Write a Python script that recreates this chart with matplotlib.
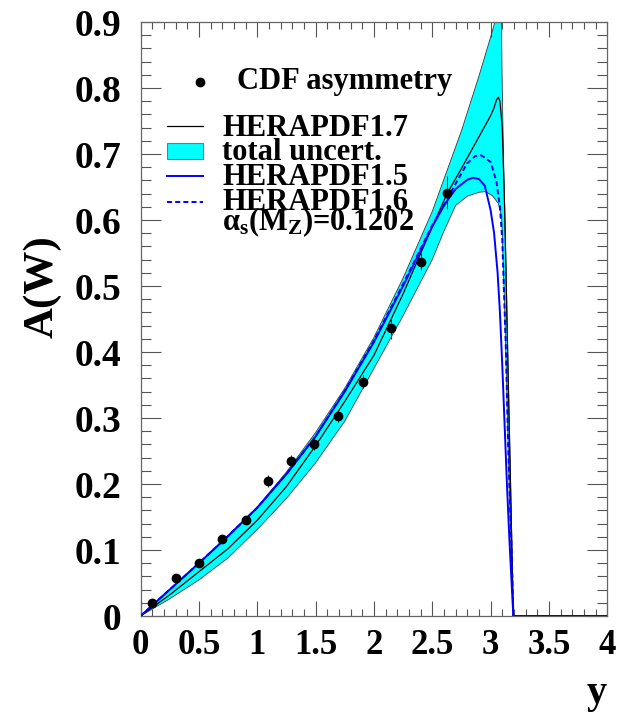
import numpy as np
import matplotlib
matplotlib.use("Agg")
import matplotlib.pyplot as plt
from matplotlib.lines import Line2D
from matplotlib.patches import Rectangle

plt.rcParams["font.family"] = ["Liberation Serif", "DejaVu Serif"]
plt.rcParams["font.weight"] = "bold"
plt.rcParams["mathtext.fontset"] = "custom"
plt.rcParams["mathtext.rm"] = "Liberation Serif:bold"
plt.rcParams["mathtext.bf"] = "Liberation Serif:bold"
plt.rcParams["mathtext.it"] = "Liberation Serif:bold"

# CDF W-asymmetry measurements
cdf_y = [0.1, 0.3, 0.5, 0.7, 0.9, 1.09, 1.29, 1.49, 1.69, 1.91, 2.15, 2.40, 2.63]
cdf_a = [0.020, 0.057, 0.081, 0.117, 0.145, 0.204, 0.235, 0.261, 0.303, 0.355, 0.436, 0.537, 0.641]
cdf_err = [0.005, 0.005, 0.005, 0.006, 0.006, 0.009, 0.009, 0.009, 0.009, 0.010, 0.017, 0.013, 0.025]

# HERAPDF1.7 total uncertainty band: upper and lower edges
band_up_y = [0.0, 0.25, 0.5, 0.75, 1.0, 1.25, 1.5, 1.75, 2.0, 2.25, 2.5, 2.75, 2.9,
             3.0, 3.04, 3.07, 3.09, 3.10, 3.11, 3.13, 3.15, 3.17, 3.195]
band_up_a = [0.0, 0.040, 0.080, 0.122, 0.165, 0.218, 0.278, 0.345, 0.422, 0.512, 0.613, 0.735, 0.818,
             0.877, 0.902, 0.925, 0.940, 0.800, 0.700, 0.550, 0.380, 0.220, 0.0]
band_lo_y = [0.0, 0.25, 0.5, 0.75, 1.0, 1.25, 1.5, 1.75, 2.0, 2.25, 2.5, 2.6, 2.7, 2.8,
             2.9, 2.96, 3.02, 3.066, 3.095, 3.12, 3.14, 3.16, 3.18, 3.195]
band_lo_a = [0.0, 0.026, 0.0545, 0.088, 0.131, 0.178, 0.232, 0.295, 0.375, 0.455, 0.540, 0.583, 0.622, 0.636,
             0.642, 0.643, 0.636, 0.625, 0.605, 0.470, 0.330, 0.190, 0.080, 0.0]

# HERAPDF1.7 central prediction
h17_y = [0.0, 0.25, 0.5, 0.75, 1.0, 1.25, 1.5, 1.75, 2.0, 2.25, 2.5, 2.63, 2.75, 2.9, 3.0,
         3.03, 3.05, 3.066, 3.08, 3.10, 3.12, 3.14, 3.16, 3.18, 3.195, 3.3, 4.0]
h17_a = [0.0, 0.032, 0.067, 0.102, 0.145, 0.196, 0.258, 0.325, 0.395, 0.488, 0.590, 0.641, 0.678, 0.726, 0.758,
         0.770, 0.782, 0.786, 0.780, 0.740, 0.620, 0.450, 0.280, 0.120, 0.0, 0.0, 0.0]

# HERAPDF1.5 prediction
h15_y = [0.0, 0.25, 0.5, 0.75, 1.0, 1.25, 1.5, 1.75, 2.0, 2.25, 2.5, 2.6, 2.7, 2.8, 2.85, 2.9,
         2.95, 3.0, 3.03, 3.06, 3.08, 3.10, 3.12, 3.14, 3.16, 3.18, 3.195, 3.3, 4.0]
h15_a = [0.0, 0.040, 0.080, 0.121, 0.164, 0.215, 0.272, 0.340, 0.415, 0.500, 0.590, 0.622, 0.647, 0.661, 0.664, 0.662,
         0.652, 0.615, 0.580, 0.520, 0.460, 0.380, 0.290, 0.200, 0.120, 0.050, 0.0, 0.0, 0.0]

# HERAPDF1.6 prediction
h16_y = [0.0, 0.25, 0.5, 0.75, 1.0, 1.25, 1.5, 1.75, 2.0, 2.25, 2.5, 2.6, 2.7, 2.8, 2.87, 2.92,
         3.0, 3.05, 3.08, 3.10, 3.13, 3.15, 3.18, 3.195, 3.3, 4.0]
h16_a = [0.0, 0.040, 0.080, 0.121, 0.164, 0.215, 0.272, 0.341, 0.417, 0.503, 0.592, 0.622, 0.655, 0.686, 0.697, 0.698,
         0.688, 0.658, 0.620, 0.570, 0.410, 0.260, 0.100, 0.0, 0.0, 0.0]

x_ticks = [0, 0.5, 1, 1.5, 2, 2.5, 3, 3.5, 4]
x_tick_labels = ["0", "0.5", "1", "1.5", "2", "2.5", "3", "3.5", "4"]
y_ticks = [0, 0.1, 0.2, 0.3, 0.4, 0.5, 0.6, 0.7, 0.8, 0.9]
y_tick_labels = ["0", "0.1", "0.2", "0.3", "0.4", "0.5", "0.6", "0.7", "0.8", "0.9"]

W, H = 620, 715
fig = plt.figure(figsize=(W / 100, H / 100), dpi=100)
fig.patch.set_facecolor("white")
ax = fig.add_axes([140.5 / W, 1 - 616 / H, (607.3 - 140.5) / W, (616 - 22) / H])

CYAN = "#00ffff"
BLUE = "#0000ff"
EDGE = "#3a3a3a"

# uncertainty band as a closed polygon
poly_x = list(band_up_y) + list(band_lo_y[::-1])
poly_a = list(band_up_a) + list(band_lo_a[::-1])
ax.fill(poly_x, poly_a, facecolor=CYAN, edgecolor="none", zorder=1)
ax.plot(band_up_y, band_up_a, color=EDGE, lw=0.6, zorder=2)
ax.plot(band_lo_y, band_lo_a, color=EDGE, lw=0.6, zorder=2)

ax.plot(h17_y, h17_a, color="black", lw=0.9, zorder=3)
ax.plot(h15_y, h15_a, color=BLUE, lw=1.4, zorder=4)
ax.plot(h16_y, h16_a, color=BLUE, lw=1.4, ls=(0, (2.6, 1.6)), zorder=5)

ax.errorbar(cdf_y, cdf_a, yerr=cdf_err, fmt="o", color="black", ms=6,
            elinewidth=0.7, ecolor="#222222", capsize=0, zorder=6)

ax.set_xlim(0, 4)
ax.set_ylim(0, 0.9)

ax.set_xticks(x_ticks)
ax.set_xticklabels(x_tick_labels)
ax.set_yticks(y_ticks)
ax.set_yticklabels(y_tick_labels)
ax.set_xticks(np.arange(0, 4.001, 0.1), minor=True)
ax.set_yticks(np.arange(0, 0.9001, 0.02), minor=True)

TICKC = "#555555"
ax.tick_params(axis="x", which="major", direction="in", top=True, bottom=True,
               length=10.8, width=0.8, color=TICKC, labelsize=25, pad=9)
ax.tick_params(axis="x", which="minor", direction="in", top=True, bottom=True,
               length=4.8, width=0.8, color=TICKC)
ax.tick_params(axis="y", which="major", direction="in", left=True, right=True,
               length=14.4, width=0.8, color=TICKC, labelsize=27, pad=14)
ax.tick_params(axis="y", which="minor", direction="in", left=True, right=True,
               length=7.2, width=0.8, color=TICKC)
for lab in ax.get_xticklabels() + ax.get_yticklabels():
    lab.set_fontweight("bold")
for sp in ax.spines.values():
    sp.set_color("#666666")
    sp.set_linewidth(0.9)


def px(x, y):
    return x / W, 1 - y / H


# axis titles
fig.text(*px(42, 287), "A(W)", rotation=90, ha="center", va="center",
         fontsize=31, fontweight="bold")
fig.text(*px(607, 703), "y", ha="right", va="baseline", fontsize=29, fontweight="bold")

# legend
LFS = 22
fig.add_artist(Line2D([px(200, 82)[0]], [px(200, 82)[1]], marker="o", ms=6,
                      color="black", transform=fig.transFigure))
fig.text(*px(237, 89), "CDF asymmetry", ha="left", va="baseline", fontsize=LFS, fontweight="bold")

x0, x1 = 167, 203
fig.add_artist(Line2D([px(x0, 126)[0], px(x1, 126)[0]], [px(x0, 126)[1]] * 2,
                      color="black", lw=0.9, transform=fig.transFigure))
fig.text(*px(222, 136), "HERAPDF1.7", ha="left", va="baseline", fontsize=LFS, fontweight="bold")

bx, by = px(x0, 159)
fig.add_artist(Rectangle((bx, by), (x1 - x0) / W, 16 / H, facecolor=CYAN,
                         edgecolor="#4a8a8a", lw=0.8, transform=fig.transFigure))
fig.text(*px(222, 160), "total uncert.", ha="left", va="baseline", fontsize=LFS, fontweight="bold")

fig.add_artist(Line2D([px(x0, 176)[0], px(x1, 176)[0]], [px(x0, 176)[1]] * 2,
                      color=BLUE, lw=1.4, transform=fig.transFigure))
fig.text(*px(222, 185), "HERAPDF1.5", ha="left", va="baseline", fontsize=LFS, fontweight="bold")

fig.add_artist(Line2D([px(x0, 202)[0], px(x1, 202)[0]], [px(x0, 202)[1]] * 2,
                      color=BLUE, lw=1.4, ls=(0, (2.6, 1.6)), transform=fig.transFigure))
fig.text(*px(222, 210), "HERAPDF1.6", ha="left", va="baseline", fontsize=LFS, fontweight="bold")
fig.text(*px(222, 230), r"$\alpha_{s}(M_{Z})$=0.1202", ha="left", va="baseline",
         fontsize=LFS, fontweight="bold")

fig.savefig("out.png", dpi=100, facecolor="white")
